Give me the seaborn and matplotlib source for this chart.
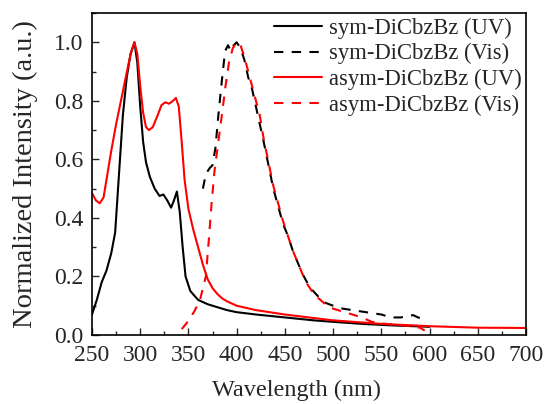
import matplotlib
matplotlib.use("Agg")
import matplotlib.pyplot as plt
import seaborn as sns
import numpy as np
from matplotlib.ticker import MultipleLocator

sym_uv_x = [250, 255, 260, 265, 270, 274, 278, 282, 286, 290, 294, 297, 300, 303, 306, 310, 315, 320, 324, 328, 332, 335, 338, 341, 344, 347, 352, 360, 370, 380, 390, 400, 420, 450, 480, 500, 530, 560, 600]
sym_uv_y = [0.07, 0.12, 0.18, 0.22, 0.28, 0.35, 0.55, 0.75, 0.88, 0.96, 1.0, 0.93, 0.78, 0.66, 0.59, 0.54, 0.50, 0.475, 0.48, 0.46, 0.435, 0.46, 0.49, 0.42, 0.30, 0.20, 0.15, 0.12, 0.105, 0.095, 0.085, 0.078, 0.07, 0.06, 0.05, 0.045, 0.038, 0.033, 0.028]

sym_vis_x = [365, 368, 372, 375, 378, 381, 385, 388, 391, 394, 397, 400, 404, 408, 412, 416, 420, 424, 428, 433, 438, 443, 448, 453, 458, 463, 468, 473, 478, 485, 492, 500, 510, 520, 530, 540, 550, 560, 570, 578, 583, 588, 593]
sym_vis_y = [0.50, 0.55, 0.57, 0.58, 0.64, 0.75, 0.88, 0.97, 0.99, 0.97, 0.99, 1.0, 0.98, 0.94, 0.88, 0.84, 0.78, 0.72, 0.66, 0.58, 0.50, 0.44, 0.38, 0.34, 0.29, 0.25, 0.21, 0.18, 0.155, 0.13, 0.11, 0.10, 0.09, 0.085, 0.08, 0.075, 0.07, 0.06, 0.06, 0.065, 0.068, 0.06, 0.055]

asym_uv_x = [250, 254, 258, 262, 266, 270, 275, 280, 285, 290, 294, 297, 300, 303, 306, 309, 313, 318, 322, 326, 330, 334, 337, 340, 343, 346, 350, 355, 360, 365, 370, 375, 380, 385, 390, 400, 420, 450, 500, 550, 600, 650, 700]
asym_uv_y = [0.485, 0.46, 0.45, 0.47, 0.55, 0.63, 0.72, 0.80, 0.88, 0.96, 1.0, 0.96, 0.85, 0.76, 0.71, 0.70, 0.71, 0.75, 0.785, 0.795, 0.79, 0.80, 0.81, 0.78, 0.66, 0.53, 0.43, 0.36, 0.30, 0.24, 0.19, 0.16, 0.14, 0.125, 0.115, 0.10, 0.085, 0.07, 0.05, 0.038, 0.03, 0.025, 0.024]

asym_vis_x = [333, 338, 348, 356, 362, 368, 371, 374, 377, 381, 385, 388, 392, 396, 400, 404, 408, 412, 416, 420, 424, 428, 433, 438, 443, 448, 453, 458, 463, 468, 473, 478, 485, 492, 500, 510, 520, 530, 540, 550, 560, 570, 580, 590, 595]
asym_vis_y = [-0.03, 0.0, 0.04, 0.08, 0.12, 0.2, 0.32, 0.45, 0.56, 0.66, 0.76, 0.84, 0.93, 0.98, 1.0, 0.99, 0.95, 0.90, 0.85, 0.80, 0.75, 0.67, 0.59, 0.51, 0.45, 0.39, 0.34, 0.29, 0.25, 0.21, 0.175, 0.15, 0.125, 0.105, 0.09, 0.08, 0.07, 0.06, 0.045, 0.04, 0.036, 0.034, 0.03, 0.025, 0.015]

labels = ["sym-DiCbzBz (UV)", "sym-DiCbzBz (Vis)", "asym-DiCbzBz (UV)", "asym-DiCbzBz (Vis)"]
y_ticks = [0.0, 0.2, 0.4, 0.6, 0.8, 1.0]
y_ticklabels = ["0.0", "0.2", "0.4", "0.6", "0.8", "1.0"]

sns.set_style("ticks")
plt.rcParams['font.family'] = ['Liberation Serif', 'DejaVu Serif']

fig = plt.figure(figsize=(5.46, 4.04), dpi=100)
ax = fig.add_axes([92/546, 1-335/404, (526-92)/546, (335-13)/404])

series = [
    (sym_uv_x, sym_uv_y, "black", "-"),
    (sym_vis_x, sym_vis_y, "black", "--"),
    (asym_uv_x, asym_uv_y, "red", "-"),
    (asym_vis_x, asym_vis_y, "red", "--"),
]
for (x, y, c, ls), lab in zip(series, labels):
    sns.lineplot(x=x, y=y, ax=ax, color=c, linestyle=ls, linewidth=1.5,
                 label=lab, sort=False, estimator=None)
for line, (_, _, _, ls) in zip(ax.get_lines(), series):
    if ls == "--":
        line.set_dashes((4.5, 4))

ax.set_xlim(250, 700)
ax.set_ylim(0, 1.1)
ax.xaxis.set_major_locator(MultipleLocator(50))
ax.xaxis.set_minor_locator(MultipleLocator(25))
ax.yaxis.set_minor_locator(MultipleLocator(0.1))
ax.set_yticks(y_ticks)
ax.set_yticklabels(y_ticklabels)
ax.tick_params(which='both', direction='in', top=False, right=False, labelsize=17)
ax.tick_params(axis='x', pad=7)
ax.tick_params(axis='y', pad=6)
ax.tick_params(which='major', length=5, width=1)
ax.tick_params(which='minor', length=3, width=1)
for s in ax.spines.values():
    s.set_visible(True)
    s.set_linewidth(1.2)
    s.set_color("black")

ax.set_xlabel("Wavelength (nm)", fontsize=17.5, va='center')
ax.xaxis.set_label_coords((296-92)/434, (335-390)/322)
ax.set_ylabel("Normalized Intensity (a.u.)", fontsize=20.5, va='center')
ax.yaxis.set_label_coords((25-92)/434, 0.5)

leg = ax.legend(loc="upper right", frameon=False, fontsize=16.3, handlelength=2.1,
                handletextpad=0.3, labelspacing=0.2, borderaxespad=0.0, borderpad=0.2)

fig.savefig("out.png", dpi=100)
